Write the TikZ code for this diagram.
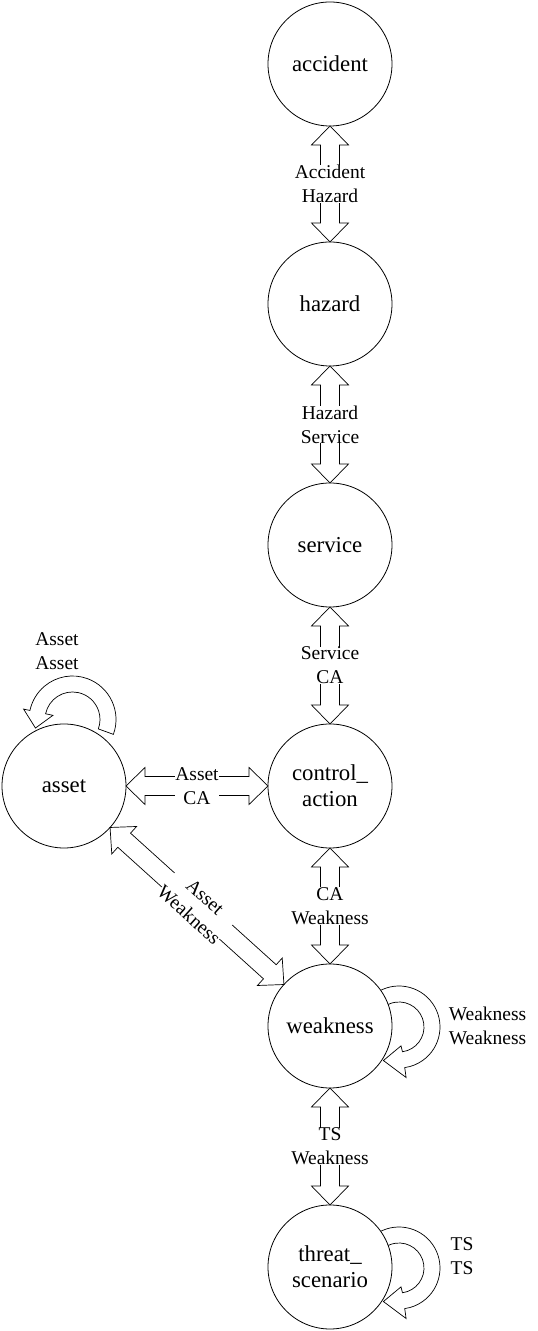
\documentclass[tikz,border=0pt]{standalone}
\usepackage{fontspec}
\setmainfont{Liberation Serif}
\usetikzlibrary{calc}
\tikzset{
  state/.style={circle, draw, line width=0.8pt, fill=white, minimum size=124pt,
    inner sep=0pt, outer sep=0pt, align=center, font=\fontsize{22.8}{26.2}\selectfont},
  elabel/.style={align=center, fill=white, inner sep=0pt, font=\fontsize{19.5}{24}\selectfont},
  llabel/.style={align=center, inner sep=0pt, font=\fontsize{19.5}{24}\selectfont},
  loopst/.style={draw, line width=0.7pt, fill=white, line join=miter},
  hollow/.style={draw, line width=0.7pt, fill=white, line join=miter, to path={
     -- ($($(\tikztostart)!19pt!(\tikztotarget)$)!18.5pt!90:(\tikztotarget)$)
     -- ($($(\tikztostart)!19pt!(\tikztotarget)$)!9.5pt!90:(\tikztotarget)$)
     -- ($($(\tikztotarget)!19pt!(\tikztostart)$)!9.5pt!90:(\tikztotarget)$)
     -- ($($(\tikztotarget)!19pt!(\tikztostart)$)!18.5pt!90:(\tikztotarget)$)
     -- (\tikztotarget)
     -- ($($(\tikztotarget)!19pt!(\tikztostart)$)!18.5pt!-90:(\tikztotarget)$)
     -- ($($(\tikztotarget)!19pt!(\tikztostart)$)!9.5pt!-90:(\tikztotarget)$)
     -- ($($(\tikztostart)!19pt!(\tikztotarget)$)!9.5pt!-90:(\tikztotarget)$)
     -- ($($(\tikztostart)!19pt!(\tikztotarget)$)!18.5pt!-90:(\tikztotarget)$)
     -- cycle}}
}
\begin{document}
\begin{tikzpicture}[x=1pt,y=1pt]
\useasboundingbox (0,0) rectangle (538,1331);
% self loops (drawn before circles)
\begin{scope}[shift={(72.5,611.5)}]
  \draw[loopst] (-20:43.5pt) arc[start angle=-20, end angle=168, radius=43.5pt]
    -- (168:50pt) -- (193:38pt) -- (168:20pt) -- (168:27.5pt)
    arc[start angle=168, end angle=-20, radius=27.5pt] -- cycle;
\end{scope}
\begin{scope}[shift={(399,304)}]
  \draw[loopst] (125:41pt) arc[start angle=125, end angle=-82, radius=41pt]
    -- (-82:51pt) -- (-115:37pt) -- (-84:19pt) -- (-82:25pt)
    arc[start angle=-82, end angle=125, radius=25pt] -- cycle;
\end{scope}
\begin{scope}[shift={(399,63)}]
  \draw[loopst] (125:41pt) arc[start angle=125, end angle=-82, radius=41pt]
    -- (-82:51pt) -- (-115:37pt) -- (-84:19pt) -- (-82:25pt)
    arc[start angle=-82, end angle=125, radius=25pt] -- cycle;
\end{scope}
% states
\node[state] (acc)   at (330,1267) {accident};
\node[state] (haz)   at (330,1027) {hazard};
\node[state] (serv)  at (330,786)  {service};
\node[state] (ctrl)  at (330,545)  {control\_\\action};
\node[state] (weak)  at (330,305)  {weakness};
\node[state] (threat) at (330,64)  {threat\_\\scenario};
\node[state] (asset) at (64,545)   {asset};
% connectors
\draw[hollow] (acc.south) to (haz.north);
\node[elabel] (l1) at ($(acc.south)!0.5!(haz.north)$) {Accident\\Hazard};
\draw[hollow] (haz.south) to (serv.north);
\node[elabel] (l2) at ($(haz.south)!0.5!(serv.north)$) {Hazard\\Service};
\draw[hollow] (serv.south) to (ctrl.north);
\node[elabel] (l3) at ($(serv.south)!0.5!(ctrl.north)$) {Service\\CA};
\draw[hollow] (ctrl.south) to (weak.north);
\node[elabel] (l4) at ($(ctrl.south)!0.5!(weak.north)$) {CA\\Weakness};
\draw[hollow] (weak.south) to (threat.north);
\node[elabel] (l5) at ($(weak.south)!0.5!(threat.north)$) {TS\\Weakness};
\draw[hollow] (asset.east) to (ctrl.west);
\node[elabel] (l6) at ($(asset.east)!0.5!(ctrl.west)$) {Asset\\CA};
\draw[hollow] (asset.-42) to (weak.138);
\path (asset.-42) -- (weak.138) node[elabel, midway, sloped] (l7) {Asset\\Weakness};
% loop labels
\node[llabel] (l8) at (57,679.5) {Asset\\Asset};
\node[llabel] (l9) at (487.5,305) {Weakness\\Weakness};
\node[llabel] (l10) at (462,75) {TS\\TS};
\end{tikzpicture}
\end{document}
